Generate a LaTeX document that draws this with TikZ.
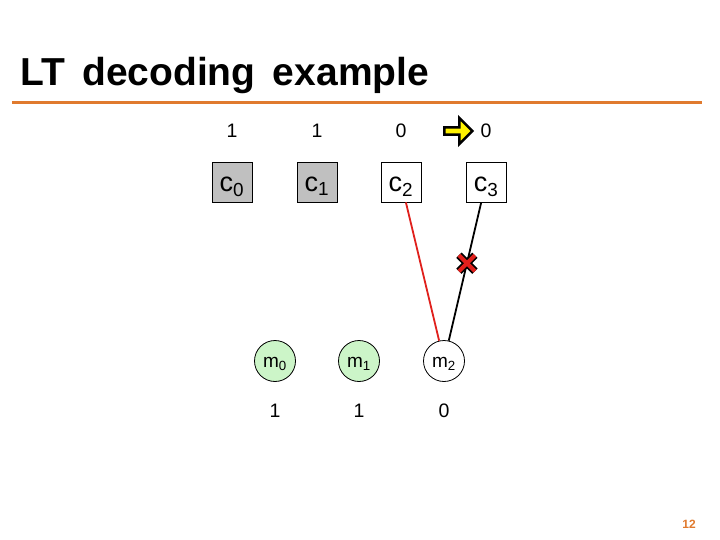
\documentclass[tikz,border=0pt]{standalone}
\usepackage{fontspec}
\setmainfont{Liberation Sans}
\usetikzlibrary{shapes.arrows}
\definecolor{corange}{HTML}{E07A2E}
\definecolor{cgreen}{HTML}{CCF5C8}
\definecolor{cgrey}{HTML}{C0C0C0}
\definecolor{cred}{HTML}{E0201C}
\tikzset{
  every picture/.style={x=1pt, y=-1pt},
  cbox/.style={draw=black, fill=#1, minimum width=40pt, minimum height=40pt, inner sep=0pt, line width=0.8pt,
    text height=19pt, text depth=0pt, font=\fontsize{27}{29}\selectfont},
  cbox/.default=white,
  mnode/.style={circle, draw=black, fill=#1, minimum size=41pt, inner sep=0pt, line width=0.8pt,
    text height=12pt, text depth=0pt, font=\fontsize{19}{21}\selectfont},
  mnode/.default=white,
  val/.style={font=\fontsize{19.5}{21}\selectfont},
  edge/.style={line width=1.8pt, draw=#1},
}

\begin{document}
\begin{tikzpicture}
  \useasboundingbox[fill=white] (0,0) rectangle (720,540);
  % title and rule
  \node[anchor=base west, font=\fontsize{39}{42}\selectfont\bfseries, inner sep=0pt] (title) at (20,86) {LT\, decoding\, example};
  \draw[corange, line width=3pt] (12,103) -- (702,103);
  \node[text=corange, font=\fontsize{12}{14}\selectfont\bfseries] (page) at (689,524) {12};
  % check nodes with their values
  \foreach \k/\x/\v/\f in {0/232/1/cgrey, 1/317/1/cgrey, 2/401/0/white, 3/486/0/white} {
    \node[cbox=\f] (c\k) at (\x,182) {c\textsubscript{\k}};
    \node[val] (cv\k) at (\x,131) {\v};
  }
  % message nodes with their values
  \foreach \k/\x/\v/\f in {0/275/1/cgreen, 1/359/1/cgreen, 2/444/0/white} {
    \node[mnode=\f] (m\k) at (\x,361) {m\textsubscript{\k}};
    \node[val] (mv\k) at (\x,411) {\v};
  }
  % edges
  \draw[edge=cred] (c2) -- (m2);
  \draw[edge=black] (c3) -- (m2) coordinate[pos=0.44] (cut);
  % removed edge mark
  \foreach \w/\c in {7.5pt/black, 4pt/cred} {
    \draw[line width=\w, draw=\c] ([shift={(-8,-8)}]cut) -- ([shift={(8,8)}]cut);
    \draw[line width=\w, draw=\c] ([shift={(-8,8)}]cut) -- ([shift={(8,-8)}]cut);
  }
  % pointer to the current check node
  \node[single arrow, draw=black, fill=yellow, line width=2.5pt, minimum height=28pt, minimum width=26pt,
        single arrow head extend=6pt, inner sep=1pt] (ptr) at (456.5,131) {};
\end{tikzpicture}
\end{document}
